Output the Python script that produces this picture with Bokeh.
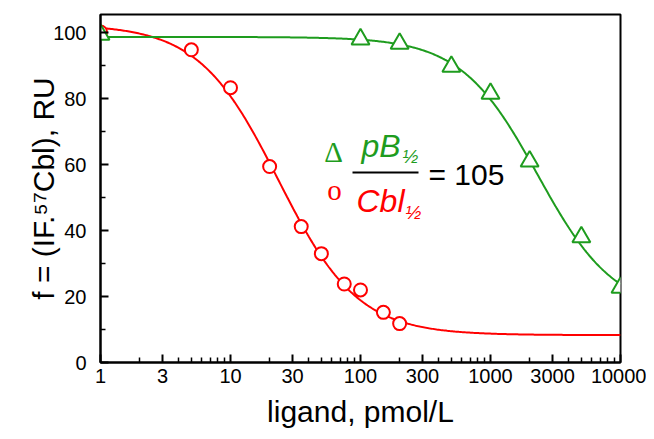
import numpy as np
from bokeh.plotting import figure
from bokeh.models import FixedTicker, NumeralTickFormatter, Label, Range1d
from bokeh.embed import file_html
from bokeh.resources import INLINE

# ---- data ----
cbl_x = [1, 5, 10, 20, 35, 50, 75, 100, 150, 200]
cbl_y = [100.2, 94.8, 83.3, 59.4, 41.2, 33.0, 23.8, 22.0, 15.2, 11.8]
pb_x = [1, 100, 200, 500, 1000, 2000, 5000, 10000]
pb_y = [99.4, 98.0, 96.7, 89.7, 81.5, 61.0, 38.0, 22.7]

# logistic fit parameters
cbl_top, cbl_bottom, cbl_half, cbl_slope = 102.5, 8.3, 23.3, 1.42
pb_top, pb_bottom, pb_half, pb_slope = 98.7, 15.0, 2310.0, 1.465

x_ticks = [1, 3, 10, 30, 100, 300, 1000, 3000, 10000]
x_minor = [2, 4, 5, 6, 7, 8, 9, 20, 40, 50, 60, 70, 80, 90,
           200, 400, 500, 600, 700, 800, 900,
           2000, 4000, 5000, 6000, 7000, 8000, 9000]
y_ticks = [0, 20, 40, 60, 80, 100]
y_minor = [10, 30, 50, 70, 90]

x_title = "ligand, pmol/L"
y_title = "f = (IF.\u2075\u2077Cbl), RU"
ratio_text = "= 105"

RED = "#ff0000"
GREEN = "#1e9c1e"
FONT = "Liberation Sans"

# frame: left 100, top 14, width 520, height 348
W, H = 646, 431
FL, FT, FW, FH = 100, 14, 520, 348
p = figure(width=W, height=H, x_axis_type="log",
           x_range=Range1d(1, 10000), y_range=Range1d(0, 105.5),
           output_backend="svg", toolbar_location=None,
           min_border_left=FL, min_border_right=W - FL - FW,
           min_border_top=FT, min_border_bottom=H - FT - FH)
p.grid.visible = False
p.outline_line_color = "black"
p.outline_line_width = 2
p.outline_line_alpha = 1.0
p.background_fill_color = "white"
p.border_fill_color = "white"

for ax in (p.xaxis[0], p.yaxis[0]):
    ax.axis_line_color = "black"
    ax.axis_line_width = 2
    ax.major_tick_line_color = "black"
    ax.minor_tick_line_color = "black"
    ax.major_tick_line_width = 2
    ax.minor_tick_line_width = 1.5
    ax.major_tick_in = 8
    ax.major_tick_out = 0
    ax.minor_tick_in = 5
    ax.minor_tick_out = 0
    ax.major_label_text_font = FONT
    ax.major_label_text_font_size = "20px"
    ax.major_label_text_color = "black"
    ax.axis_label_text_font = FONT
    ax.axis_label_text_font_size = "30px"
    ax.axis_label_text_font_style = "normal"
    ax.axis_label_text_color = "black"

p.xaxis.ticker = FixedTicker(ticks=x_ticks, minor_ticks=x_minor)
p.xaxis.formatter = NumeralTickFormatter(format="0")
p.xaxis.major_label_standoff = 6
p.xaxis.axis_label = x_title
p.xaxis.axis_label_standoff = 9

p.yaxis.ticker = FixedTicker(ticks=y_ticks, minor_ticks=y_minor)
p.yaxis.formatter = NumeralTickFormatter(format="0")
p.yaxis.major_label_standoff = 14
p.yaxis.axis_label = y_title
p.yaxis.axis_label_standoff = -10

# fitted curves
xs = np.logspace(0, 4, 400)
cbl_curve = cbl_bottom + (cbl_top - cbl_bottom) / (1 + (xs / cbl_half) ** cbl_slope)
pb_curve = pb_bottom + (pb_top - pb_bottom) / (1 + (xs / pb_half) ** pb_slope)
p.line(xs, cbl_curve, line_color=RED, line_width=2)
p.line(xs, pb_curve, line_color=GREEN, line_width=2)

p.scatter(cbl_x, cbl_y, marker="circle", size=13, line_color=RED,
          line_width=2, fill_color="white")
p.scatter(pb_x, pb_y, marker="triangle", size=18, line_color=GREEN,
          line_width=2, fill_color="white")


# ratio annotation (positions in frame pixels; baseline given)
def lab(x, base, text, color, size, style="normal", font=FONT, align="left"):
    p.add_layout(Label(x=x, y=base + 0.35 * size, x_units="screen",
                       y_units="screen", text=text, text_font=font,
                       text_font_style=style, text_font_size=f"{size}px",
                       text_color=color, text_align=align,
                       text_baseline="middle"))


lab(233, 200, "Δ", GREEN, 29, font="Liberation Serif", align="center")
lab(234, 162, "o", RED, 29, font="Liberation Serif", align="center")
lab(261, 205, "pB", GREEN, 32, style="italic")
lab(302, 199, "½", GREEN, 19, style="italic")
lab(256, 150, "Cbl", RED, 32, style="italic")
lab(305, 143, "½", RED, 19, style="italic")
lab(328, 178, ratio_text, "black", 30)

# fraction bar
px_per_dec = FW / 4.0
px_per_unit = FH / 105.5
frac_y = (362 - 172) / px_per_unit
p.segment(x0=[10 ** ((352 - FL) / px_per_dec)], y0=[frac_y],
          x1=[10 ** ((418 - FL) / px_per_dec)], y1=[frac_y],
          line_color="black", line_width=2)

open("out.html", "w").write(file_html(p, INLINE))
